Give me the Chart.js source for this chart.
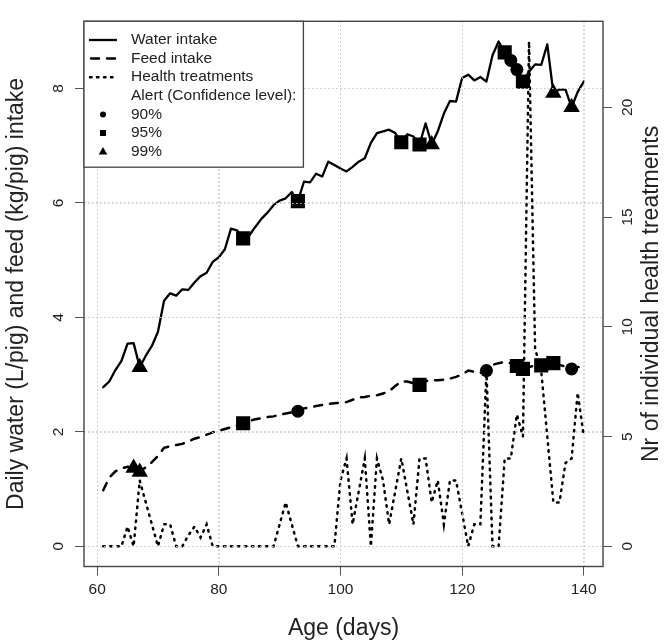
<!DOCTYPE html>
<html>
<head>
<meta charset="utf-8">
<script src="https://cdn.jsdelivr.net/npm/chart.js@4/dist/chart.umd.min.js"></script>
<style>
html,body{margin:0;padding:0;background:#fff;}
canvas{display:block;}
</style>
</head>
<body>
<canvas id="c" width="665" height="644"></canvas>
<script>
// ---------------- DATA ----------------
const days = [61,62,63,64,65,66,67,68,69,70,71,72,73,74,75,76,77,78,79,80,
  81,82,83,84,85,86,87,88,89,90,91,92,93,94,95,96,97,98,99,100,
  101,102,103,104,105,106,107,108,109,110,111,112,113,114,115,116,117,118,119,120,
  121,122,123,124,125,126,127,128,129,130,131,132,133,134,135,136,137,138,139,140];

const waterIntake = [2.78,2.88,3.08,3.24,3.54,3.55,3.13,3.33,3.50,3.75,
  4.29,4.42,4.38,4.49,4.48,4.61,4.72,4.78,4.97,5.05,
  5.19,5.55,5.52,5.38,5.43,5.58,5.72,5.83,5.96,6.04,
  6.08,6.19,6.03,6.37,6.36,6.51,6.46,6.72,6.66,6.60,
  6.55,6.63,6.72,6.78,7.05,7.22,7.25,7.28,7.22,7.06,
  7.20,7.16,7.02,7.39,7.02,7.25,7.56,7.78,7.77,8.18,
  8.24,8.14,8.20,8.12,8.58,8.82,8.63,8.49,8.33,8.12,
  8.29,8.42,8.41,8.77,7.92,7.98,7.98,7.67,7.94,8.12];

const feedIntake = [0.98,1.20,1.31,1.36,1.39,1.37,1.30,1.38,1.47,1.58,
  1.72,1.75,1.77,1.79,1.83,1.88,1.91,1.95,1.99,2.02,
  2.05,2.08,2.11,2.15,2.19,2.22,2.24,2.26,2.27,2.30,
  2.32,2.34,2.36,2.41,2.43,2.45,2.47,2.49,2.50,2.51,
  2.52,2.56,2.60,2.61,2.63,2.64,2.67,2.71,2.80,2.88,
  2.88,2.85,2.82,2.89,2.90,2.90,2.91,2.93,2.96,3.00,
  3.07,3.05,3.03,3.07,3.17,3.20,3.22,3.20,3.15,3.10,
  3.13,3.16,3.16,3.19,3.20,3.17,3.14,3.10,3.13,3.14];

const healthTreatments = [0,0,0,0,0.9,0,3,2,1,0,
  1,1,0,0,0.5,0.9,0.4,1,0,0,
  0,0,0,0,0,0,0,0,0,1,
  2,1,0,0,0,0,0,0,0,3,
  4,1,2.5,4,0,4,3,1,2.5,4,
  2.5,1,4,4,2,3,1,3,3,1.5,
  0,1,1,8,0,0,4,4,6,5,
  23,9,8,5,2,2,3.8,4,7,5];

// Alert days (confidence level) for each series
const waterAlert90 = [128,129];
const waterAlert95 = [84,93,110,113,127,130];
const waterAlert99 = [67,115,135,138];
const feedAlert90 = [93,124,138];
const feedAlert95 = [84,113,129,130,133,135];
const feedAlert99 = [66,67];

// Axis ticks
const xTicks = [60,80,100,120,140];
const leftTicks = [0,2,4,6,8];
const rightTicks = [0,5,10,15,20];

// Text
const xTitle = 'Age (days)';
const leftTitle = 'Daily water (L/pig) and feed (kg/pig) intake';
const rightTitle = 'Nr of individual health treatments';
const legendLabels = ['Water intake','Feed intake','Health treatments','Alert (Confidence level):','90%','95%','99%'];

// ---------------- BUILD ----------------
const FONT = '"Liberation Sans", Arial, Helvetica, sans-serif';
Chart.defaults.font.family = FONT;
Chart.defaults.color = '#222';

const pts = (ys) => days.map((d, i) => ({x: d, y: ys[i]}));
const alertPts = (alertDays, ys) => alertDays.map(d => ({x: d, y: ys[days.indexOf(d)]}));

// R-style 4% axis extension
const ext = (lo, hi) => { const p = (hi - lo) * 0.04; return [lo - p, hi + p]; };
const [xMin, xMax] = ext(Math.min(...days), Math.max(...days));
const [lMin, lMax] = ext(0, Math.max(...waterIntake));
const [rMin, rMax] = ext(0, Math.max(...healthTreatments));

const markerDs = (data, style, r, axis) => ({
  type: 'line', data, showLine: false, yAxisID: axis,
  pointStyle: style, pointRadius: r, pointHoverRadius: r,
  pointBackgroundColor: '#000', pointBorderColor: '#000', pointBorderWidth: 0
});

const datasets = [
  markerDs(alertPts(waterAlert90, waterIntake), 'circle', 6.5, 'y'),
  markerDs(alertPts(waterAlert95, waterIntake), 'rect', 10, 'y'),
  markerDs(alertPts(waterAlert99, waterIntake), 'triangle', 9.5, 'y'),
  markerDs(alertPts(feedAlert90, feedIntake), 'circle', 6.5, 'y'),
  markerDs(alertPts(feedAlert95, feedIntake), 'rect', 10, 'y'),
  markerDs(alertPts(feedAlert99, feedIntake), 'triangle', 9.5, 'y'),
  { label: 'Water intake', data: pts(waterIntake), yAxisID: 'y', borderColor: '#000', borderWidth: 2.3,
    pointRadius: 0, tension: 0, borderJoinStyle: 'round', borderCapStyle: 'round' },
  { label: 'Feed intake', data: pts(feedIntake), yAxisID: 'y', borderColor: '#000', borderWidth: 2.5,
    borderDash: [8, 8], borderCapStyle: 'round', pointRadius: 0, tension: 0 },
  { label: 'Health treatments', data: pts(healthTreatments), yAxisID: 'y1', borderColor: '#000', borderWidth: 2.5,
    borderDash: [1.5, 5.5], borderCapStyle: 'round', pointRadius: 0, tension: 0 }
];

const GRID_COLOR = '#cccccc';
const GRID_DASH = [1.5, 2.5];
const gridBase = { color: GRID_COLOR, lineWidth: 1, tickColor: '#555', tickLength: 9, tickWidth: 1, tickBorderDash: [] };

const framePlugin = {
  id: 'frameLegend',
  afterDatasetsDraw(chart) {
    const {ctx, chartArea: a, scales} = chart;
    ctx.save();
    // grid drawn over the data (as R's grid() after plotting)
    ctx.strokeStyle = GRID_COLOR;
    ctx.lineWidth = 1;
    ctx.setLineDash(GRID_DASH);
    ctx.lineCap = 'butt';
    xTicks.forEach(v => {
      const px = Math.round(scales.x.getPixelForValue(v)) + 0.5;
      ctx.beginPath(); ctx.moveTo(px, a.top); ctx.lineTo(px, a.bottom); ctx.stroke();
    });
    leftTicks.forEach(v => {
      const py = Math.round(scales.y.getPixelForValue(v)) + 0.5;
      ctx.beginPath(); ctx.moveTo(a.left, py); ctx.lineTo(a.right, py); ctx.stroke();
    });
    ctx.setLineDash([]);

    // plot frame
    ctx.strokeStyle = '#444';
    ctx.lineWidth = 1.4;
    ctx.strokeRect(a.left, a.top, a.right - a.left, a.bottom - a.top);

    // legend
    ctx.font = '15.5px ' + FONT;
    const textOff = 47, rowH = 18.6, firstRow = 18.7;
    let maxW = 0;
    legendLabels.forEach(t => { maxW = Math.max(maxW, ctx.measureText(t).width); });
    const lx = a.left, ly = a.top;
    const lw = textOff + maxW + 7;
    const lh = firstRow + rowH * (legendLabels.length - 1) + 15.6;
    ctx.fillStyle = '#fff';
    ctx.fillRect(lx, ly, lw, lh);
    ctx.strokeStyle = '#444';
    ctx.lineWidth = 1.3;
    ctx.strokeRect(lx, ly, lw, lh);

    const symX = lx + 19;
    const rowY = i => ly + firstRow + i * rowH;
    ctx.strokeStyle = '#000';
    const seg = (i, dash, w, x0) => {
      ctx.beginPath();
      ctx.setLineDash(dash);
      ctx.lineWidth = w;
      ctx.moveTo(x0, rowY(i));
      ctx.lineTo(lx + 33, rowY(i));
      ctx.stroke();
    };
    ctx.lineCap = 'butt';
    seg(0, [], 2.3, lx + 5);
    ctx.lineCap = 'round';
    seg(1, [8, 8], 2.5, lx + 7);
    seg(2, [1.5, 5.5], 2.5, lx + 6);
    ctx.setLineDash([]);
    // symbols
    ctx.fillStyle = '#000';
    ctx.beginPath(); ctx.arc(symX, rowY(4), 3, 0, Math.PI * 2); ctx.fill();
    ctx.fillRect(symX - 3, rowY(5) - 3, 6, 6);
    ctx.beginPath();
    ctx.moveTo(symX, rowY(6) - 4.5);
    ctx.lineTo(symX + 4.3, rowY(6) + 3);
    ctx.lineTo(symX - 4.3, rowY(6) + 3);
    ctx.closePath(); ctx.fill();
    // texts
    ctx.fillStyle = '#222';
    ctx.textAlign = 'left';
    ctx.textBaseline = 'middle';
    legendLabels.forEach((t, i) => ctx.fillText(t, lx + textOff, rowY(i)));

    // right axis title (reads bottom to top)
    ctx.save();
    ctx.font = '23px ' + FONT;
    ctx.fillStyle = '#222';
    ctx.translate(652, (a.top + a.bottom) / 2);
    ctx.rotate(-Math.PI / 2);
    ctx.textAlign = 'center';
    ctx.textBaseline = 'middle';
    ctx.fillText(rightTitle, 0, 0);
    ctx.restore();

    ctx.restore();
  }
};

new Chart(document.getElementById('c'), {
  type: 'line',
  data: { datasets },
  options: {
    responsive: false,
    devicePixelRatio: 1,
    animation: false,
    events: [],
    layout: { padding: { top: 4.5, left: 0, right: 0, bottom: 0 } },
    plugins: { legend: { display: false }, tooltip: { enabled: false } },
    scales: {
      x: {
        type: 'linear', min: xMin, max: xMax,
        afterBuildTicks: s => { s.ticks = xTicks.map(v => ({value: v})); },
        afterFit: s => { s.height = 77.5; },
        ticks: { font: { size: 15.5 }, color: '#222', padding: 5, maxRotation: 0, autoSkip: false },
        grid: gridBase,
        border: { display: false, dash: GRID_DASH },
        title: { display: true, text: xTitle, font: { size: 23 }, color: '#222', padding: { top: 0, bottom: 2 } }
      },
      y: {
        position: 'left', min: lMin, max: lMax,
        afterBuildTicks: s => { s.ticks = leftTicks.map(v => ({value: v})); },
        afterFit: s => { s.width = 84; },
        ticks: { font: { size: 15.5 }, color: '#222', padding: 12, minRotation: 90, maxRotation: 90, crossAlign: 'center', autoSkip: false },
        grid: gridBase,
        border: { display: false, dash: GRID_DASH },
        title: { display: true, text: leftTitle, font: { size: 23 }, color: '#222', padding: { top: 3, bottom: 0 } }
      },
      y1: {
        position: 'right', min: rMin, max: rMax,
        afterBuildTicks: s => { s.ticks = rightTicks.map(v => ({value: v})); },
        afterFit: s => { s.width = 62; },
        ticks: { font: { size: 15.5 }, color: '#222', padding: 7, minRotation: 90, maxRotation: 90, crossAlign: 'center', autoSkip: false },
        grid: Object.assign({}, gridBase, { drawOnChartArea: false }),
        border: { display: false },
        title: { display: false }
      }
    }
  },
  plugins: [framePlugin]
});
</script>
</body>
</html>
